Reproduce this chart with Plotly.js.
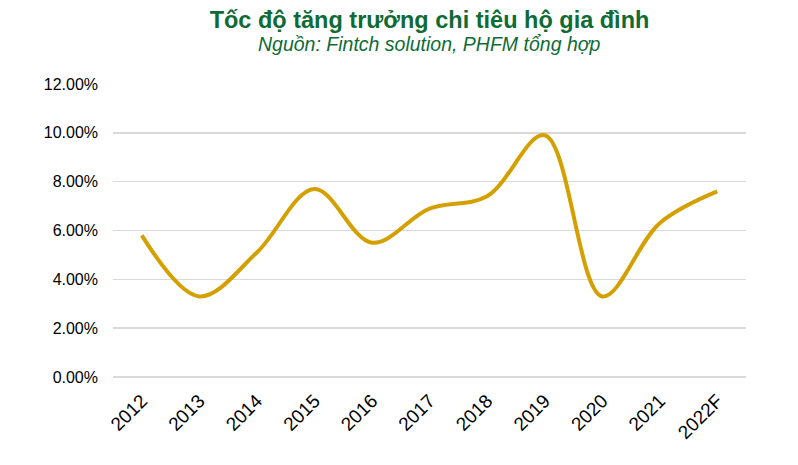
<!DOCTYPE html>
<html>
<head>
<meta charset="utf-8">
<script src="https://cdn.plot.ly/plotly-3.0.1.min.js"></script>
<style>html,body{margin:0;padding:0;background:#fff;}#chart{width:798px;height:465px;}</style>
</head>
<body>
<div id="chart"></div>
<script>
const years = ["2012","2013","2014","2015","2016","2017","2018","2019","2020","2021","2022F"];
const growth = [5.8, 3.3, 5.1, 7.7, 5.5, 6.9, 7.4, 9.9, 3.3, 6.3, 7.6];
const yTicks = [0, 2, 4, 6, 8, 10, 12];
const yTickText = yTicks.map(v => v.toFixed(2) + "%");

const trace = {
  x: years,
  y: growth,
  type: "scatter",
  mode: "lines",
  line: {color: "#D4A000", width: 4, shape: "spline", smoothing: 1},
  hoverinfo: "x+y"
};

const layout = {
  width: 798, height: 465,
  margin: {l: 113, r: 52, t: 84, b: 88},
  paper_bgcolor: "#ffffff", plot_bgcolor: "#ffffff",
  showlegend: false,
  font: {family: "Liberation Sans, Arial, sans-serif", color: "#000000", size: 16},
  title: {
    text: "<b>Tốc độ tăng trưởng chi tiêu hộ gia đình</b>",
    font: {family: "Liberation Sans, Arial, sans-serif", size: 23.5, color: "#0E6B36"},
    x: 0.5, xanchor: "center", xref: "paper",
    y: 0.958, yanchor: "middle", yref: "container"
  },
  annotations: [{
    text: "<i>Nguồn: Fintch solution, PHFM tổng hợp</i>",
    xref: "paper", yref: "paper", x: 0.5, y: 1.135, xanchor: "center", yanchor: "middle",
    showarrow: false,
    font: {family: "Liberation Sans, Arial, sans-serif", size: 19.5, color: "#0E6B36"}
  }],
  xaxis: {
    type: "category",
    range: [-0.5, 10.5],
    tickangle: -45,
    showgrid: false, showline: false, zeroline: false,
    ticks: "",
    ticklabelstandoff: 8,
    tickfont: {size: 19, color: "#000"}
  },
  yaxis: {
    range: [0, 12],
    tickvals: yTicks, ticktext: yTickText,
    showgrid: true, gridcolor: "#D9D9D9", gridwidth: 1.5,
    zeroline: true, zerolinecolor: "#D9D9D9", zerolinewidth: 1.5,
    showline: false, ticks: "",
    ticklabelstandoff: 14,
    tickfont: {size: 16, color: "#000"}
  }
};

Plotly.newPlot("chart", [trace], layout, {displayModeBar: false, staticPlot: true});
</script>
</body>
</html>
